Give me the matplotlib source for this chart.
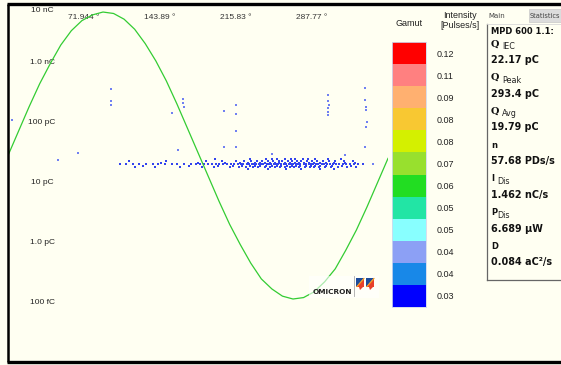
# PRPD pattern screenshot (MPD 600) rebuilt with matplotlib
import numpy as np
import matplotlib.pyplot as plt
from matplotlib.patches import Rectangle, Polygon
import matplotlib.transforms as mtransforms

# ---- data ----
# reference voltage, every 10 deg
ref_phase = [0, 10, 20, 30, 40, 50, 60, 70, 80, 90, 100, 110, 120, 130, 140, 150, 160, 170, 180,
             190, 200, 210, 220, 230, 240, 250, 260, 270, 280, 290, 300, 310, 320, 330, 340, 350, 360]
ref_volt = [0.00, 0.17, 0.34, 0.50, 0.64, 0.77, 0.87, 0.94, 0.98, 1.00, 0.99, 0.95, 0.88, 0.78,
            0.66, 0.52, 0.36, 0.19, 0.02, -0.15, -0.32, -0.48, -0.62, -0.75, -0.86, -0.93, -0.98,
            -1.00, -0.99, -0.95, -0.88, -0.79, -0.66, -0.52, -0.36, -0.19, -0.02]

# main pulse band (phase in deg), one list per charge level
row_charges = [16.5, 18.0, 19.0, 20.0, 21.0, 22.5, 25.0]   # pC
row_16pc = [227, 246, 263, 278, 296, 309]
row_18pc = [120, 139, 163, 184, 195, 210, 219, 225, 232, 237, 243, 248, 253, 258, 262, 267, 271,
            276, 281, 286, 290, 295, 300, 306, 313, 321, 330]
row_19pc = [128, 171, 199, 213, 222, 229, 234, 239, 244, 250, 255, 259, 264, 269, 273, 277, 282,
            287, 291, 296, 301, 307, 316, 325]
row_20pc = [106, 112, 118, 124, 131, 137, 142, 149, 155, 160, 167, 173, 178, 182, 186, 189, 193,
            197, 200, 204, 207, 211, 214, 218, 221, 223, 226, 228, 231, 233, 235, 238, 240, 242,
            245, 247, 249, 252, 254, 256, 259, 261, 263, 266, 268, 270, 273, 275, 277, 280, 282,
            285, 287, 289, 292, 294, 297, 299, 302, 305, 308, 311, 314, 317, 320, 324, 328, 332, 336]
row_21pc = [145, 180, 206, 220, 227, 234, 239, 243, 248, 253, 257, 262, 267, 272, 276, 280, 285,
            290, 296, 301, 309, 319, 329]
row_22pc = [115, 150, 188, 203, 216, 224, 230, 236, 241, 246, 251, 257, 260, 265, 269, 274, 278,
            283, 288, 293, 298, 304, 310, 318, 327]
row_25pc = [196, 229, 244, 250, 255, 262, 268, 272, 279, 284, 291, 303, 315]

# scattered single pulses
out_phase = [4, 98, 98, 98, 155, 166, 166, 167, 205, 216, 216, 303, 303, 304, 303, 303, 303,
             338, 338, 339, 339, 340, 339, 216, 205, 216, 250, 338, 346, 319, 47, 66, 161]
out_charge = [108, 360, 229, 197, 140, 247, 205, 176, 151, 190, 135, 288, 229, 197, 170, 146, 130,
              374, 238, 176, 157, 100, 83, 71, 39, 39, 30, 39, 20, 29, 24, 31, 35]

phase_ticks = [71.944, 143.89, 215.83, 287.77]
phase_labels = ['71.944 °', '143.89 °', '215.83 °', '287.77 °']
charge_ticks = [1e-8, 1e-9, 1e-10, 1e-11, 1e-12, 1e-13]
charge_labels = ['10 nC', '1.0 nC', '100 pC', '10 pC', '1.0 pC', '100 fC']

gamut_colors = ['#FF0000', '#FF8080', '#FFB070', '#F8C832', '#D4F000', '#98E02E',
                '#22DD22', '#22E5A5', '#88FFFF', '#8CA0F5', '#1888E8', '#0000FF']
gamut_labels = ['0.12', '0.11', '0.09', '0.08', '0.08', '0.07',
                '0.06', '0.05', '0.05', '0.04', '0.04', '0.03']

stat_names = [('Q', 'IEC'), ('Q', 'Peak'), ('Q', 'Avg'), ('n', ''), ('I', 'Dis'), ('P', 'Dis'), ('D', '')]
stat_values = ['22.17 pC', '293.4 pC', '19.79 pC', '57.68 PDs/s', '1.462 nC/s', '6.689 µW', '0.084 aC²/s']

# ---- figure ----
W, H = 561, 365
bg = '#FFFFF2'
fig = plt.figure(figsize=(W / 100, H / 100), dpi=100, facecolor=bg)


def box(x0, y0, x1, y1):
    # pixel box (top-left origin) -> figure fraction rect
    return [x0 / W, 1 - y1 / H, (x1 - x0) / W, (y1 - y0) / H]


# PRPD axes: phase 0..360 between x=8 and x=388
ax = fig.add_axes(box(8, 4, 388, 362))
ax.set_facecolor('none')
ax.set_xlim(0, 360)
ax.set_yscale('log')
ax.set_ylim(1.047e-14, 9.19e-9)
ax.set_xticks([])
ax.set_yticks([])
ax.minorticks_off()
for s in ax.spines.values():
    s.set_visible(False)

rows = [row_16pc, row_18pc, row_19pc, row_20pc, row_21pc, row_22pc, row_25pc]
for q, ph in zip(row_charges, rows):
    ax.scatter(ph, [q * 1e-12] * len(ph), s=1.4, marker='s', color='#3344EE', linewidths=0, zorder=3)
ax.scatter(out_phase, np.array(out_charge) * 1e-12, s=1.4, marker='s', color='#7080F2',
           linewidths=0, zorder=3)

# sync voltage on a linear twin scale
ax2 = ax.twinx()
ax2.set_ylim(-1.439, 1.056)
ax2.set_yticks([])
for s in ax2.spines.values():
    s.set_visible(False)
ax2.plot(ref_phase, ref_volt, color='#33CC33', lw=0.9, zorder=2)

# tick texts drawn inside the plot
tr_y = mtransforms.blended_transform_factory(ax.transAxes, ax.transData)
for v, lab in zip(charge_ticks, charge_labels):
    ax.text(0.0895, min(v, 7.3e-9), lab, transform=tr_y, ha='center', va='center',
            fontsize=6, family='Liberation Sans', color='#222222')
tr_x = mtransforms.blended_transform_factory(ax.transData, ax.transAxes)
for v, lab in zip(phase_ticks, phase_labels):
    ax.text(v, 0.961, lab, transform=tr_x, ha='center', va='center',
            fontsize=6, family='Liberation Sans', color='#333333')

# gamut scale
cax = fig.add_axes(box(392, 42, 426, 307))
n = len(gamut_colors)
cax.barh(range(n), 1, height=1, left=0, color=gamut_colors[::-1], linewidth=0)
cax.set_xlim(0, 1)
cax.set_ylim(-0.5, n - 0.5)
cax.set_xticks([])
cax.set_yticks(range(n))
cax.set_yticklabels(gamut_labels[::-1], fontsize=6.5, family='Liberation Sans', color='#222222')
cax.yaxis.tick_right()
cax.tick_params(axis='y', length=0, pad=8)
for s in cax.spines.values():
    s.set_color('#D0D8EE')
    s.set_linewidth(0.6)

# overlay in pixel coordinates for frame, panel and logo
ov = fig.add_axes([0, 0, 1, 1], zorder=5)
ov.set_xlim(0, W)
ov.set_ylim(H, 0)
ov.axis('off')
ov.patch.set_visible(False)

ov.plot([7, W], [4, 4], color='black', lw=2.4, solid_capstyle='butt')
ov.plot([7, W], [362, 362], color='black', lw=2.4, solid_capstyle='butt')
ov.plot([8, 8], [4, 362], color='black', lw=1.8, solid_capstyle='butt')

ov.text(409, 23, 'Gamut', ha='center', va='center', fontsize=6.5, family='Liberation Sans', color='#222222')
ov.text(460, 20.5, 'Intensity\n[Pulses/s]', ha='center', va='center', fontsize=6.5,
        family='Liberation Sans', color='#222222', linespacing=1.1)

# statistics panel
ov.add_patch(Rectangle((529, 9), 32, 13, facecolor='#DCDCDC', edgecolor='#C8C8C8', lw=0.5))
ov.text(497, 15.5, 'Main', ha='center', va='center', fontsize=5, family='DejaVu Sans', color='#444444')
ov.text(544.5, 15.5, 'Statistics', ha='center', va='center', fontsize=4.8, family='DejaVu Sans', color='#444444')
ov.plot([487, 487], [24, 280], color='#666666', lw=0.9)
ov.plot([487, W], [280, 280], color='#666666', lw=0.9)
ov.plot([487, W], [24, 24], color='#D8D8D8', lw=0.6)

ov.text(491, 31.5, 'MPD 600 1.1:', ha='left', va='center', fontsize=6.0, weight='bold',
        family='DejaVu Sans', color='#111111')
for i, ((big, sub), val) in enumerate(zip(stat_names, stat_values)):
    yv = 60 + 33.7 * i
    yl = yv - 16
    ov.text(491, yl, big, ha='left', va='center', fontsize=7 if big == 'Q' else 6.0,
            weight='bold', family='DejaVu Serif' if big == 'Q' else 'DejaVu Sans', color='#111111')
    if sub:
        xs = 502 if big == 'Q' else 497
        ov.text(xs, yl + 2.5, sub, ha='left', va='center', fontsize=5.8,
                family='DejaVu Sans', color='#222222')
    ov.text(491, yv, val, ha='left', va='center', fontsize=6.9, weight='bold',
            family='DejaVu Sans', color='#111111')

# OMICRON logo
ov.add_patch(Rectangle((309, 276), 70, 22, facecolor='white', edgecolor='none', alpha=0.6))
ov.text(313, 292, 'OMICRON', ha='left', va='center', fontsize=5.3, weight='bold',
        family='DejaVu Sans', color='#222222')
for x0 in (356, 366):
    ov.add_patch(Polygon([(x0, 278), (x0 + 8, 278), (x0, 287)], closed=True, facecolor='#1E4C9A', edgecolor='none'))
    ov.add_patch(Polygon([(x0 + 8, 278), (x0 + 8, 287), (x0, 287)], closed=True, facecolor='#E8402B', edgecolor='none'))
    ov.plot([x0 + 8, x0 + 1], [278.5, 286.5], color='#F5A623', lw=0.8)
    ov.add_patch(Polygon([(x0 + 3, 287), (x0 + 7, 287), (x0 + 4, 290)], closed=True, facecolor='#E8402B', edgecolor='none'))
ov.plot([354, 354], [276, 296], color='#AAAAAA', lw=0.6)

plt.savefig('out.png', dpi=100, facecolor=bg)
